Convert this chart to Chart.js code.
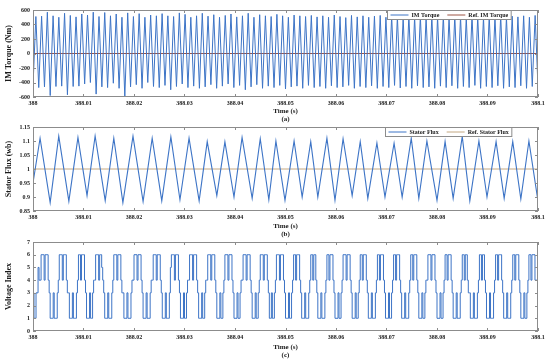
<!DOCTYPE html>
<html>
<head>
<meta charset="utf-8">
<title>IM Torque, Stator Flux and Voltage Index</title>
<script src="https://cdn.jsdelivr.net/npm/chart.js"></script>
<style>
  body { margin: 0; background: #fff; }
  #wrap { position: relative; width: 550px; height: 360px; }
  .panel { position: absolute; left: 0; width: 550px; }
</style>
</head>
<body>
<div id="wrap">
  <div class="panel" style="top:0;height:124px"><canvas id="torqueChart"></canvas></div>
  <div class="panel" style="top:117px;height:122px"><canvas id="fluxChart"></canvas></div>
  <div class="panel" style="top:232px;height:128px"><canvas id="voltChart"></canvas></div>
</div>
<script>
// time axis (s)
const timeStart = 388;
const timeEnd = 388.1;
const xTickValues = [388, 388.01, 388.02, 388.03, 388.04, 388.05, 388.06, 388.07, 388.08, 388.09, 388.1];
const xTickLabels = ['388', '388.01', '388.02', '388.03', '388.04', '388.05', '388.06', '388.07', '388.08', '388.09', '388.1'];

// (a) IM torque, alternating trough / peak samples, evenly spaced in time (Nm)
const torqueValues = [
  -450, 510, -470, 515, -460, 570, -580, 520, -455, 500, -450, 555, -570, 525, -455, 505, -450, 545, -420, 530,
  -400, 570, -560, 510, -460, 565, -470, 520, -410, 545, -480, 500, -600, 560, -460, 510, -430, 550, -480, 500,
  -400, 530, -455, 520, -470, 550, -440, 520, -500, 510, -455, 560, -420, 540, -470, 500, -450, 520, -480, 555,
  -460, 515, -430, 535, -480, 500, -450, 525, -420, 545, -470, 505, -440, 520, -500, 555, -460, 500, -430, 535,
  -480, 520, -450, 510, -470, 540, -440, 520, -490, 500, -460, 530, -450, 520, -480, 510, -440, 525, -470, 505,
  -455, 520, -480, 500, -445, 530, -470, 510, -460, 495, -440, 525, -480, 505, -455, 520, -470, 500, -445, 515,
  -480, 525, -455, 500, -470, 520, -440, 510, -475, 495, -455, 525, -480, 505, -445, 520, -470, 500, -460, 515,
  -480, 505, -450, 525, -470, 500, -445, 520, -480, 510, -455, 495, -470, 525, -440, 510, -480, 500, -455, 520,
  -470, 505, -445, 525, -480, 500, -460, 515, -470, 505, -445, 520, -480, 500, -455, 525, -470
];
const torqueRefTimes = [388, 388.1];
const torqueRefValues = [0, 0];
const torqueYTicks = [-600, -400, -200, 0, 200, 400, 600];
const torqueYLabels = ['-600', '-400', '-200', '0', '200', '400', '600'];

// (b) stator flux, corner points of the triangle wave (wb)
const fluxTimes = [
  388, 388.0014, 388.0034, 388.0051, 388.0071, 388.0089, 388.0107, 388.0123, 388.0143, 388.0160, 388.0178,
  388.0198, 388.0218, 388.0236, 388.0255, 388.0273, 388.0291, 388.0309, 388.0329, 388.0345, 388.0364,
  388.0380, 388.0398, 388.0414, 388.0434, 388.0450, 388.0467, 388.0481, 388.0499, 388.0517, 388.0533,
  388.0550, 388.0564, 388.0582, 388.0598, 388.0614, 388.0632, 388.0648, 388.0663, 388.0681, 388.0697,
  388.0715, 388.0731, 388.0749, 388.0764, 388.0780, 388.0800, 388.0816, 388.0832, 388.0850, 388.0865,
  388.0883, 388.0899, 388.0917, 388.0933, 388.0950, 388.0966, 388.0982, 388.1
];
const fluxValues = [
  0.95, 1.11, 0.88, 1.117, 0.885, 1.113, 0.905, 1.118, 0.887, 1.11, 0.88,
  1.117, 0.884, 1.11, 0.886, 1.115, 0.89, 1.11, 0.886, 1.098, 0.905,
  1.097, 0.9, 1.113, 0.895, 1.108, 0.89, 1.10, 0.888, 1.10, 0.9,
  1.098, 0.9, 1.11, 0.888, 1.108, 0.905, 1.098, 0.895, 1.093, 0.9,
  1.092, 0.9, 1.11, 0.895, 1.10, 0.888, 1.098, 0.895, 1.116, 0.886,
  1.10, 0.9, 1.098, 0.895, 1.098, 0.893, 1.10, 0.885
];
const fluxRefTimes = [388, 388.1];
const fluxRefValues = [1, 1];
const fluxYTicks = [0.85, 0.9, 0.95, 1, 1.05, 1.1, 1.15];
const fluxYLabels = ['0.85', '0.9', '0.95', '1', '1.05', '1.1', '1.15'];

// (c) selected voltage vector index, sampled every 0.2 ms
const voltValues = [
  3,3,1,1,3,3,5,
  4,4,6,6,6,4,6,6,6,4, 3,1,1,1,3,1,1,1,3,
  4,6,6,6,4,6,6,6,4, 3,3,1,1,1,3,1,1,1,3,
  4,6,6,4,6,6,6,4, 3,1,1,1,3,1,1,3,
  4,4,6,6,6,4,6,6,5,4, 3,1,1,1,3,1,1,1,3,
  4,6,6,6,4,6,6,6,4, 3,3,1,1,1,3,1,1,1,3,
  4,4,6,6,6,4,6,6,6,4, 3,1,1,1,3,1,1,1,3,
  4,4,6,6,6,4,6,6,6,4, 3,1,1,1,3,1,1,1,3,
  5,6,6,6,4,6,6,6,4, 3,1,1,1,3,1,1,3,
  4,4,6,6,6,4,6,6,6,4, 3,1,1,1,3,1,1,3,
  4,4,6,6,6,4,6,6,6,4, 3,1,1,1,3,1,1,3,
  4,6,6,6,4,6,6,6,4, 3,1,1,1,3,1,1,3,
  4,4,6,6,6,4,6,6,6,4, 3,1,1,1,3,1,1,3,
  4,6,6,6,4,6,6,6,4, 3,1,1,3,1,1,3,
  4,6,6,6,4,6,6,6,4, 3,1,1,1,3,1,1,3,
  4,6,6,4,6,6,6,4, 3,1,1,1,3,1,1,1,3,
  4,6,6,4,6,6,4, 3,1,1,1,3,1,1,1,3,
  4,6,6,4,6,6,6,4, 3,1,1,1,3,1,1,3,
  4,6,6,6,4,6,6,6,4, 3,1,1,1,3,1,1,3,
  4,6,6,4,6,6,6,4, 3,1,1,1,3,1,1,1,3,
  4,6,6,4,6,6,6,4, 3,1,1,1,3,1,1,3,
  4,6,6,4,6,6,6,4, 3,1,1,1,3,1,1,1,3,
  4,6,6,4,6,6,6,4, 3,1,1,1,3,1,1,3,
  4,4,6,6,6,4,6,6,6,4, 3,1,1,1,3,1,1,3,
  4,6,6,4,6,6,6,4, 3,1,1,1,3,1,1,1,3,
  4,6,6,4,6,6,4, 3,3,1,1,1,3,1,1,1,3,
  4,6,6,4,6,6,4, 3,1,1,1,3,1,1,1,3,
  4,6,6,4,6,6,6,4, 3,1,1,1,3,1,1,1,3,
  4,6,6,4,6,6,6,4, 3,1,1,1,3,1,1,3,
  4,6,6,4,6,6,6,4,4,4
];
const voltYTicks = [0, 1, 2, 3, 4, 5, 6, 7];
const voltYLabels = ['0', '1', '2', '3', '4', '5', '6', '7'];

const lineBlue = '#3d74c6';
const textColor = '#1a1a1a';
const serif = "'Liberation Serif', 'Times New Roman', serif";

// evenly spaced samples between timeStart and timeEnd
function sampled(values) {
  const step = (timeEnd - timeStart) / (values.length - 1);
  return values.map((v, i) => ({ x: timeStart + i * step, y: v }));
}
function paired(times, values) {
  return times.map((t, i) => ({ x: t, y: values[i] }));
}

// box round the plot, inward ticks, and a boxed legend drawn over the data
const framePlugin = {
  id: 'frame',
  afterDatasetsDraw(chart) {
    const { ctx, chartArea: a, scales: { x, y } } = chart;
    ctx.save();
    ctx.strokeStyle = '#8c8c8c';
    ctx.lineWidth = 1;
    ctx.strokeRect(a.left + 0.5, a.top + 0.5, a.width - 1, a.height - 1);
    ctx.beginPath();
    x.ticks.forEach(t => {
      const px = Math.round(x.getPixelForValue(t.value)) + 0.5;
      ctx.moveTo(px, a.top); ctx.lineTo(px, a.top + 3);
      ctx.moveTo(px, a.bottom); ctx.lineTo(px, a.bottom - 3);
    });
    y.ticks.forEach(t => {
      const py = Math.round(y.getPixelForValue(t.value)) + 0.5;
      ctx.moveTo(a.left, py); ctx.lineTo(a.left + 3, py);
      ctx.moveTo(a.right, py); ctx.lineTo(a.right - 3, py);
    });
    ctx.stroke();

    const opts = chart.options.plugins.frame;
    const items = chart.data.datasets.filter(d => d.label);
    if (opts.legend && items.length) {
      ctx.font = 'bold 6px ' + serif;
      const sample = 18, gap = 3, spacing = 8, pad = 3;
      let w = pad * 2;
      items.forEach((d, i) => { w += sample + gap + ctx.measureText(d.label).width + (i ? spacing : 0); });
      const h = 9;
      const left = Math.round(a.right - opts.legendRight - w) + 0.5;
      const top = Math.round(a.top + opts.legendTop) + 0.5;
      ctx.fillStyle = '#fff';
      ctx.fillRect(left, top, w, h);
      ctx.strokeStyle = '#8c8c8c';
      ctx.strokeRect(left, top, w, h);
      let cx = left + pad;
      const cy = top + h / 2;
      items.forEach((d, i) => {
        if (i) cx += spacing;
        ctx.strokeStyle = d.borderColor;
        ctx.lineWidth = 1;
        ctx.beginPath(); ctx.moveTo(cx, cy); ctx.lineTo(cx + sample, cy); ctx.stroke();
        cx += sample + gap;
        ctx.fillStyle = textColor;
        ctx.textBaseline = 'middle';
        ctx.fillText(d.label, cx, cy + 0.5);
        cx += ctx.measureText(d.label).width;
      });
    }
    ctx.restore();
  }
};

function makeOptions(cfg) {
  return {
    responsive: true,
    maintainAspectRatio: false,
    animation: false,
    events: [],
    layout: { padding: { top: 10, right: 12, left: 0, bottom: 0 } },
    elements: { point: { radius: 0 } },
    plugins: {
      legend: { display: false },
      tooltip: { enabled: false },
      frame: { legend: cfg.legend, legendRight: 27, legendTop: 0 }
    },
    scales: {
      x: {
        type: 'linear',
        min: timeStart,
        max: timeEnd,
        afterBuildTicks: s => { s.ticks = xTickValues.map(v => ({ value: v })); },
        afterFit: s => { s.height = cfg.xHeight; },
        grid: { display: false, drawTicks: false },
        border: { display: false },
        ticks: {
          autoSkip: false, maxRotation: 0, padding: 3, color: textColor,
          font: { family: serif, size: 6, weight: 'bold' },
          callback: (v, i) => xTickLabels[i]
        },
        title: {
          display: true, text: ['Time (s)', cfg.tag], color: textColor,
          font: { family: serif, size: 7, weight: 'bold', lineHeight: 1.15 },
          padding: { top: 0, bottom: 1 }
        }
      },
      y: {
        min: cfg.yTicks[0],
        max: cfg.yTicks[cfg.yTicks.length - 1],
        afterBuildTicks: s => { s.ticks = cfg.yTicks.map(v => ({ value: v })); },
        afterFit: s => { s.width = 33; },
        grid: { display: false, drawTicks: false },
        border: { display: false },
        ticks: {
          padding: 3, color: textColor,
          font: { family: serif, size: 6, weight: 'bold' },
          callback: (v, i) => cfg.yLabels[i]
        },
        title: {
          display: true, text: cfg.yTitle, color: textColor,
          font: { family: serif, size: 8, weight: 'bold' },
          padding: { top: 4, bottom: 0 }
        }
      }
    }
  };
}

new Chart(document.getElementById('torqueChart'), {
  type: 'line',
  data: {
    datasets: [
      { label: 'IM Torque', data: sampled(torqueValues), borderColor: lineBlue, borderWidth: 1 },
      { label: 'Ref. IM Torque', data: paired(torqueRefTimes, torqueRefValues), borderColor: '#9c5444', borderWidth: 1 }
    ]
  },
  options: makeOptions({ yTicks: torqueYTicks, yLabels: torqueYLabels, yTitle: 'IM Torque (Nm)', tag: '(a)', xHeight: 27, legend: true }),
  plugins: [framePlugin]
});

new Chart(document.getElementById('fluxChart'), {
  type: 'line',
  data: {
    datasets: [
      { label: 'Stator Flux', data: paired(fluxTimes, fluxValues), borderColor: lineBlue, borderWidth: 1.1 },
      { label: 'Ref. Stator Flux', data: paired(fluxRefTimes, fluxRefValues), borderColor: '#c4a882', borderWidth: 1 }
    ]
  },
  options: makeOptions({ yTicks: fluxYTicks, yLabels: fluxYLabels, yTitle: 'Stator Flux (wb)', tag: '(b)', xHeight: 28, legend: true }),
  plugins: [framePlugin]
});

new Chart(document.getElementById('voltChart'), {
  type: 'line',
  data: {
    datasets: [
      { data: sampled(voltValues), borderColor: lineBlue, borderWidth: 1, stepped: 'after' }
    ]
  },
  options: makeOptions({ yTicks: voltYTicks, yLabels: voltYLabels, yTitle: 'Voltage Index', tag: '(c)', xHeight: 29, legend: false }),
  plugins: [framePlugin]
});
</script>
</body>
</html>
